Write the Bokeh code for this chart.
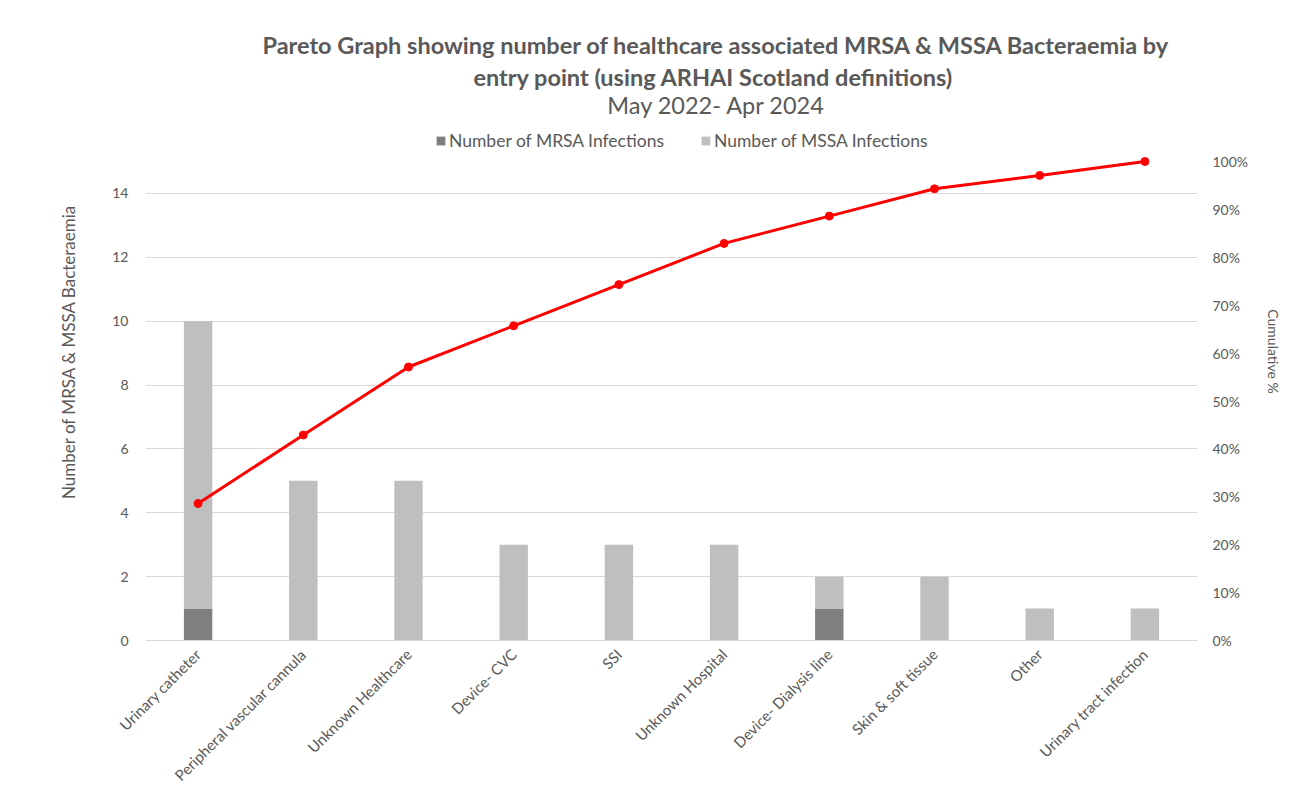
from bokeh.plotting import figure
from bokeh.models import (ColumnDataSource, FactorRange, Range1d, LinearAxis, Label, Title,
                          NumeralTickFormatter, FixedTicker, Legend, LegendItem)
from bokeh.embed import file_html
from bokeh.resources import INLINE
import math

categories = ["Urinary catheter", "Peripheral vascular cannula", "Unknown Healthcare",
              "Device- CVC", "SSI", "Unknown Hospital", "Device- Dialysis line",
              "Skin & soft tissue", "Other", "Urinary tract infection"]
mrsa = [1, 0, 0, 0, 0, 0, 1, 0, 0, 0]
mssa = [9, 5, 5, 3, 3, 3, 1, 2, 1, 1]
cumulative_pct = [0.286, 0.429, 0.571, 0.657, 0.743, 0.829, 0.886, 0.943, 0.971, 1.0]
left_ticks = [0, 2, 4, 6, 8, 10, 12, 14]
right_ticks = [0.0, 0.1, 0.2, 0.3, 0.4, 0.5, 0.6, 0.7, 0.8, 0.9, 1.0]
title_line1 = "Pareto Graph showing number of healthcare associated MRSA & MSSA Bacteraemia by"
title_line2 = "entry point (using ARHAI Scotland definitions)"
subtitle = "May 2022- Apr 2024"

FONT = "Lato"
TXT = "#595959"

# layout (pixels): frame from y=62 to y=640; value 15 / 100% sits at y=161
FRAME_TOP, FRAME_BOTTOM, VALUE_TOP = 62, 640, 161
stretch = (FRAME_BOTTOM - FRAME_TOP) / (FRAME_BOTTOM - VALUE_TOP)

src = ColumnDataSource(dict(cat=categories, mrsa=mrsa, mssa=mssa, cum=cumulative_pct))

p = figure(width=1311, height=794, output_backend="svg", toolbar_location=None,
           x_range=FactorRange(*categories, range_padding=0),
           y_range=Range1d(0, 15 * stretch),
           min_border_left=145, min_border_right=114, min_border_top=FRAME_TOP,
           min_border_bottom=794 - FRAME_BOTTOM)
p.title.visible = False
p.outline_line_color = None
p.background_fill_color = "white"
p.border_fill_color = "white"

p.extra_y_ranges = {"pct": Range1d(0, 1 * stretch)}

bars = p.vbar_stack(["mrsa", "mssa"], x="cat", width=0.27, source=src,
                    color=["#7f7f7f", "#bfbfbf"], line_color=None)

line = p.line(x="cat", y="cum", source=src, y_range_name="pct", line_color="#ff0000", line_width=3)
pts = p.scatter(x="cat", y="cum", source=src, y_range_name="pct", size=8,
                fill_color="#ff0000", line_color="#ff0000")

# axes styling
p.xaxis.axis_line_color = "#d9d9d9"
p.xaxis.major_tick_line_color = None
p.xaxis.minor_tick_line_color = None
p.xaxis.major_label_orientation = math.pi / 4
p.xaxis.major_label_text_font = FONT
p.xaxis.major_label_text_font_size = "15px"
p.xaxis.major_label_text_color = TXT
p.xaxis.major_label_standoff = 5
p.xgrid.grid_line_color = None

p.yaxis.ticker = FixedTicker(ticks=left_ticks)
p.yaxis.axis_line_color = None
p.yaxis.major_tick_line_color = None
p.yaxis.minor_tick_line_color = None
p.yaxis.major_label_text_font = FONT
p.yaxis.major_label_text_font_size = "14px"
p.yaxis.major_label_text_color = TXT
p.yaxis.major_label_standoff = 11
p.yaxis.axis_label = "Number of MRSA & MSSA Bacteraemia"
p.yaxis.axis_label_text_font = FONT
p.yaxis.axis_label_text_font_size = "17px"
p.yaxis.axis_label_text_font_style = "normal"
p.yaxis.axis_label_text_color = TXT
p.yaxis.axis_label_standoff = 30
p.ygrid.ticker = FixedTicker(ticks=left_ticks)
p.ygrid.grid_line_color = "#d9d9d9"
p.ygrid.grid_line_width = 1

raxis = LinearAxis(y_range_name="pct", ticker=FixedTicker(ticks=right_ticks),
                   formatter=NumeralTickFormatter(format="0%"))
raxis.axis_line_color = None
raxis.major_tick_line_color = None
raxis.minor_tick_line_color = None
raxis.major_label_text_font = FONT
raxis.major_label_text_font_size = "14px"
raxis.major_label_text_color = TXT
raxis.major_label_standoff = 9
raxis.axis_label = "Cumulative %"
raxis.axis_label_text_font = FONT
raxis.axis_label_text_font_size = "14px"
raxis.axis_label_text_font_style = "normal"
raxis.axis_label_text_color = TXT
raxis.axis_label_standoff = 14
p.add_layout(raxis, "right")

legend = Legend(items=[LegendItem(label="Number of MRSA Infections", renderers=[bars[0]]),
                       LegendItem(label="Number of MSSA Infections", renderers=[bars[1]])],
                orientation="horizontal", location=(290, FRAME_BOTTOM - 151),
                label_text_font=FONT, label_text_font_size="17.5px", label_text_color=TXT,
                glyph_width=11, glyph_height=11, spacing=36, padding=4, margin=0,
                label_standoff=3,
                border_line_color=None, background_fill_alpha=0)
p.add_layout(legend, "center")

t1 = Title(text=title_line1, align="left", offset=117, text_font=FONT,
           text_font_size="23.5px", text_font_style="bold", text_color=TXT, standoff=7)
p.add_layout(t1, "above")

for txt, cx, cy, style in [(title_line2, 713, 76, "bold"),
                           (subtitle, 716, 104, "normal")]:
    p.add_layout(Label(x=cx - 145, y=FRAME_BOTTOM - cy, x_units="screen", y_units="screen",
                       text=txt, text_align="center", text_baseline="middle", text_font=FONT,
                       text_font_size="23.5px", text_font_style=style, text_color=TXT))

open("out.html", "w").write(file_html(p, INLINE))
